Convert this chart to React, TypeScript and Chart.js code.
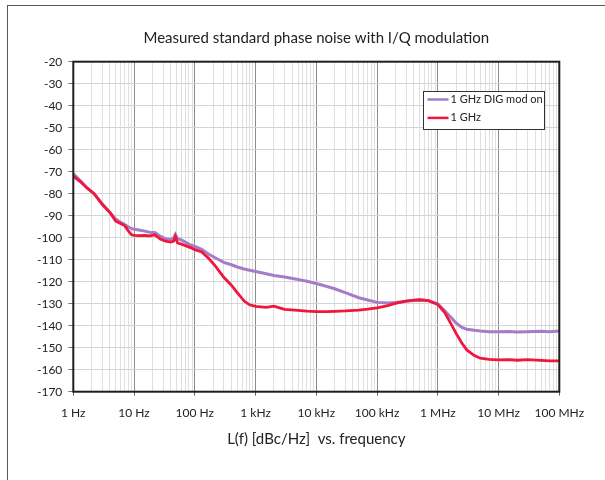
import React, { useEffect, useRef } from 'react';
import { Chart, registerables } from 'chart.js';

Chart.register(...registerables);

const TITLE = 'Measured standard phase noise with I/Q modulation';
const X_TITLE = 'L(f) [dBc/Hz]  vs. frequency';
const SERIES_LABELS = ['1 GHz DIG mod on', '1 GHz'];
const SERIES_COLORS = ['#a47dc6', '#f0163c'];

const decadeLabels = ['1 Hz', '10 Hz', '100 Hz', '1 kHz', '10 kHz', '100 kHz', '1 MHz', '10 MHz', '100 MHz'];
const minorMultipliers = [1, 2, 3, 4, 5, 6, 7, 8, 9];
const yMin = -170;
const yMax = -20;
const yStep = 10;

const freqHz = [
  1, 1.3, 1.7, 2.2, 3, 4, 5, 6, 7, 8, 9,
  10, 12, 15, 18, 22, 27, 33, 40, 45, 48, 52, 60, 70, 85,
  100, 130, 170, 220, 300, 400, 500, 650, 800,
  1e3, 1.5e3, 2e3, 3e3, 5e3, 7e3,
  1e4, 1.5e4, 2e4, 3e4, 5e4, 7e4,
  1e5, 1.5e5, 2e5, 3e5, 4e5, 5e5, 7e5,
  1e6, 1.3e6, 1.6e6, 2e6, 2.5e6, 3e6, 4e6, 5e6, 7e6,
  1e7, 1.5e7, 2e7, 3e7, 5e7, 7e7,
  1e8,
];

const digModOn = [
  -71, -74, -77.5, -80, -84.5, -88.5, -91.5, -93, -94, -95, -95.8,
  -96.2, -96.5, -97, -97.5, -97.6, -99.3, -100.5, -100.8, -100, -98.5, -100.5, -101, -102, -103.3,
  -104, -105.3, -107.5, -109.2, -111.2, -112.3, -113.3, -114.2, -114.8,
  -115.4, -116.4, -117.2, -117.9, -119, -119.8,
  -120.8, -122.2, -123.2, -125, -127.3, -128.3,
  -129.4, -129.7, -129.5, -128.9, -128.5, -128.3, -128.6,
  -130, -133.2, -135.8, -138.8, -140.8, -141.6, -142.1, -142.4, -142.7,
  -142.8, -142.6, -142.9, -142.7, -142.5, -142.8,
  -142.4,
];

const plain1GHz = [
  -72, -74.5, -77.5, -80, -85, -88.5, -92.5, -93.5, -94.5, -96.8, -98.6,
  -98.9, -99.1, -99, -99.2, -98.7, -100.6, -101.6, -102, -101.6, -99.5, -102.4, -102.9, -103.6, -104.5,
  -105.4, -106.5, -109.5, -113, -118, -121.6, -125, -128.8, -130.5,
  -131.2, -131.7, -131.1, -132.6, -133, -133.4,
  -133.6, -133.6, -133.5, -133.3, -132.9, -132.5,
  -131.9, -130.9, -129.9, -128.8, -128.4, -128.2, -128.6,
  -130.4, -134, -138.5, -143.5, -148, -151, -153.6, -154.8, -155.3,
  -155.5, -155.4, -155.7, -155.4, -155.8, -156,
  -156,
];

const FONT = 'Lato';

function isDecade(v: number) {
  const l = Math.log10(v);
  return Math.abs(l - Math.round(l)) < 1e-9;
}

const frameAndLegend = {
  id: 'frameAndLegend',
  afterDatasetsDraw(chart: any) {
    const { ctx, chartArea } = chart;
    ctx.save();
    ctx.strokeStyle = '#1e1e1e';
    ctx.lineWidth = 2;
    ctx.strokeRect(chartArea.left, chartArea.top, chartArea.right - chartArea.left, chartArea.bottom - chartArea.top);

    const w = 121;
    const h = 38;
    const x = Math.round(chartArea.right - 15.3 - w) + 0.5;
    const y = Math.round(chartArea.top + 29.3) + 0.5;
    ctx.fillStyle = '#ffffff';
    ctx.fillRect(x, y, w, h);
    ctx.strokeStyle = '#333333';
    ctx.lineWidth = 1;
    ctx.strokeRect(x, y, w, h);
    ctx.font = `11px ${FONT}`;
    ctx.textBaseline = 'middle';
    ctx.textAlign = 'left';
    const order = [0, 1];
    order.forEach((di, i) => {
      const ds = chart.data.datasets[di];
      const ly = y + 8 + i * 18.4;
      ctx.strokeStyle = ds.borderColor;
      ctx.lineWidth = 2.5;
      ctx.beginPath();
      ctx.moveTo(x + 4, ly);
      ctx.lineTo(x + 25, ly);
      ctx.stroke();
      ctx.fillStyle = '#222222';
      ctx.fillText(ds.label, x + 27, ly);
    });
    ctx.restore();
  },
};

export default function App() {
  const canvasRef = useRef<HTMLCanvasElement>(null);

  useEffect(() => {
    if (!canvasRef.current) return;
    const chart = new Chart(canvasRef.current, {
      type: 'line',
      data: {
        datasets: [
          {
            label: SERIES_LABELS[0],
            data: freqHz.map((f, i) => ({ x: f, y: digModOn[i] })),
            borderColor: SERIES_COLORS[0],
            borderWidth: 3,
            pointRadius: 0,
            tension: 0,
            order: 1,
          },
          {
            label: SERIES_LABELS[1],
            data: freqHz.map((f, i) => ({ x: f, y: plain1GHz[i] })),
            borderColor: SERIES_COLORS[1],
            borderWidth: 2.8,
            pointRadius: 0,
            tension: 0,
            order: 0,
          },
        ],
      },
      options: {
        animation: false,
        responsive: false,
        layout: { padding: { left: 0, right: 45.7, top: 0.7, bottom: 0 } },
        plugins: {
          legend: { display: false },
          tooltip: { enabled: false },
          title: {
            display: true,
            fullSize: false,
            text: TITLE,
            color: '#222222',
            font: { family: FONT, size: 15, weight: 'normal' },
            padding: { top: 28, bottom: 15 },
          },
        },
        scales: {
          x: {
            type: 'logarithmic',
            min: 1,
            max: 1e8,
            afterBuildTicks: (scale: any) => {
              const ticks: { value: number }[] = [];
              for (let e = 0; e < decadeLabels.length - 1; e++) {
                minorMultipliers.forEach((m) => ticks.push({ value: m * Math.pow(10, e) }));
              }
              ticks.push({ value: Math.pow(10, decadeLabels.length - 1) });
              scale.ticks = ticks;
            },
            afterFit: (scale: any) => {
              scale.height = 88.3;
            },
            ticks: {
              autoSkip: false,
              maxRotation: 0,
              minRotation: 0,
              padding: 10,
              color: '#222222',
              font: { family: FONT, size: 12 },
              callback: (value: any) => {
                const v = Number(value);
                if (!isDecade(v)) return '';
                return decadeLabels[Math.round(Math.log10(v))];
              },
            },
            grid: {
              color: (ctx: any) => (ctx.tick && isDecade(ctx.tick.value) ? '#8c8c8c' : '#e0e0e0'),
              tickColor: (ctx: any) => (ctx.tick && isDecade(ctx.tick.value) ? '#666666' : 'rgba(0,0,0,0)'),
              lineWidth: 1,
              tickLength: 4,
            },
            border: { display: false },
            title: {
              display: true,
              text: X_TITLE,
              color: '#222222',
              font: { family: FONT, size: 15 },
              padding: { top: 0, bottom: 32 },
            },
          },
          y: {
            type: 'linear',
            min: yMin,
            max: yMax,
            afterFit: (scale: any) => {
              scale.width = 73.3;
            },
            ticks: {
              stepSize: yStep,
              padding: 6,
              color: '#222222',
              font: { family: FONT, size: 12 },
            },
            grid: {
              color: '#d4d4d4',
              tickColor: '#777777',
              lineWidth: 1,
              tickLength: 5,
            },
            border: { display: false },
          },
        },
      },
      plugins: [frameAndLegend],
    });
    return () => chart.destroy();
  }, []);

  return (
    <div style={{ position: 'fixed', left: 0, top: 0, width: 605, height: 480, overflow: 'hidden', background: '#ffffff' }}>
      <div
        style={{
          position: 'absolute',
          left: 7,
          top: 5,
          width: 660,
          height: 560,
          border: '1.5px solid #5a5a5a',
        }}
      />
      <canvas ref={canvasRef} width={605} height={480} style={{ position: 'absolute', left: 0, top: 0 }} />
    </div>
  );
}
